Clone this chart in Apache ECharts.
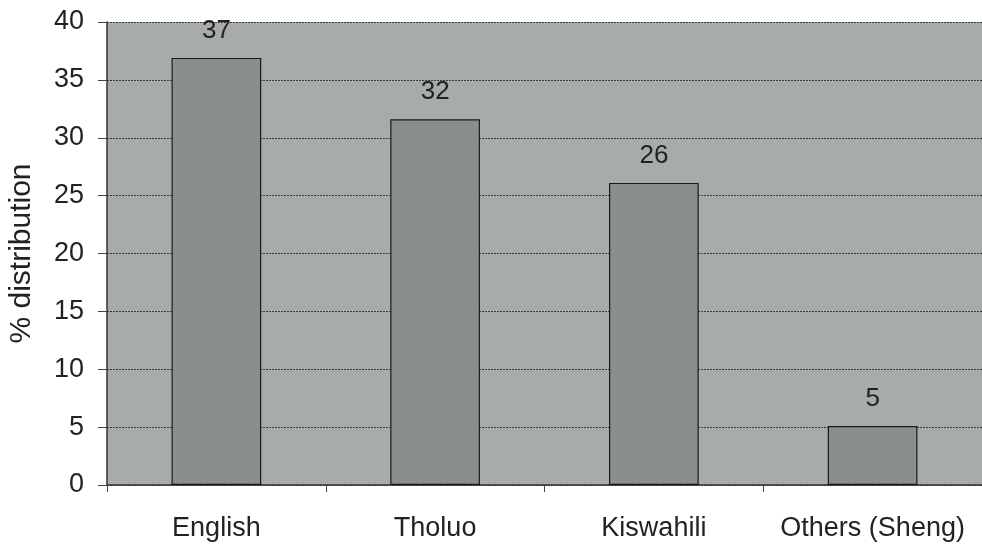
<!DOCTYPE html>
<html><head><meta charset="utf-8">
<script src="https://cdn.jsdelivr.net/npm/echarts@6/dist/echarts.min.js"></script>
<style>html,body{margin:0;padding:0;background:#fff}#c{width:982px;height:545px}</style>
</head><body><div id="c"></div>
<script>
var categories = ['English', 'Tholuo', 'Kiswahili', 'Others (Sheng)'];
var values = [36.9, 31.6, 26.1, 5.1];
var valueLabels = ['37', '32', '26', '5'];
var yTicks = [0, 5, 10, 15, 20, 25, 30, 35, 40];

var chart = echarts.init(document.getElementById('c'));
chart.setOption({
  animation: false,
  backgroundColor: '#ffffff',
  grid: { left: 107, top: 22, right: 0, bottom: 60, show: true, backgroundColor: '#a8abab', borderWidth: 0,
          containLabel: false, outerBoundsMode: 'none' },
  xAxis: {
    type: 'category', data: categories,
    axisLine: { show: true, lineStyle: { color: '#333', width: 1.5 } },
    axisTick: { show: true, length: 7, lineStyle: { color: '#444' } },
    axisLabel: { color: '#222', fontSize: 27, fontFamily: 'Liberation Sans, Arial', margin: 30, interval: 0, hideOverlap: false }
  },
  yAxis: {
    type: 'value', min: yTicks[0], max: yTicks[yTicks.length - 1], interval: 5,
    name: '% distribution', nameLocation: 'middle', nameGap: 70, nameRotate: 90,
    nameTextStyle: { color: '#222', fontSize: 30, fontFamily: 'Liberation Sans, Arial' },
    axisLine: { show: true, lineStyle: { color: '#333', width: 1.5 } },
    axisTick: { show: true, length: 9, inside: false, lineStyle: { color: '#444' } },
    axisLabel: { color: '#222', fontSize: 27, fontFamily: 'Liberation Sans, Arial', margin: 23 },
    splitLine: { show: true, lineStyle: { color: '#3a3d3d', width: 1, type: [2, 1] } }
  },
  series: [{
    type: 'bar', data: values, barWidth: '41%',
    itemStyle: { color: '#8b8e8e', borderColor: '#1a1a1a', borderWidth: 1.2 },
    label: {
      show: true, position: 'top', distance: 14, color: '#222', fontSize: 26,
      fontFamily: 'Liberation Sans, Arial',
      formatter: function (p) { return valueLabels[p.dataIndex]; }
    }
  }]
});
</script></body></html>
